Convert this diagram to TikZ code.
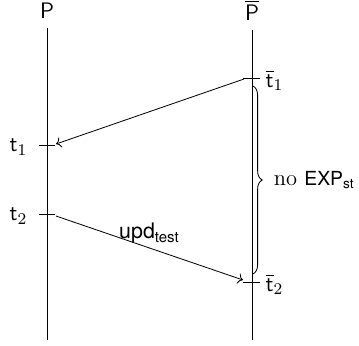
\documentclass[tikz,border=0pt]{standalone}
\usepackage{amsmath}
\usepackage{fontspec}
\newfontfamily\helv{TeX Gyre Heros}
\usetikzlibrary{arrows.meta, positioning, decorations.pathreplacing}

\begin{document}
\begin{tikzpicture}[
  x=0.49pt, y=-0.49pt,
  font=\fontsize{11}{13}\selectfont,
  life/.style={line width=0.45pt},
  tck/.style={line width=0.45pt},
  msg/.style={->, line width=0.4pt},
  lbl/.style={inner sep=1pt}
]
\useasboundingbox (0,0) rectangle (359,345);
% processes
\node[lbl, anchor=base] (P) at (47,19) {$\mathsf{P}$};
\node[lbl, anchor=base] (Pb) at (252,20.5) {$\overline{\mathsf{P}}$};
\coordinate (Ptop) at (47,28);
\coordinate (Pbot) at (47,340);
\coordinate (Pbtop) at (252,30);
\coordinate (Pbbot) at (252,340);
\draw[life] (Ptop) -- (Pbot);
\draw[life] (Pbtop) -- (Pbbot);

% ticks
\coordinate (ta) at (47,145);
\coordinate (tb) at (47,214);
\coordinate (tba) at (252,78);
\coordinate (tbb) at (252,282);
\draw[tck] (ta) ++(-8,0) -- ++(16,0);
\draw[tck] (tb) ++(-8,0) -- ++(16,0);
\draw[tck] (tba) ++(-9,0) -- ++(17,0);
\draw[tck] (tbb) ++(-9,0) -- ++(17,0);
\node[lbl, left=8.5pt of ta, yshift=-1pt] (ta-l) {$\mathsf{t}_1$};
\node[lbl, left=8.5pt of tb, yshift=-1pt] (tb-l) {$\mathsf{t}_2$};
\node[lbl, right=5.5pt of tba, yshift=-1pt] (tba-l) {$\overline{\mathsf{t}}_1$};
\node[lbl, right=5.5pt of tbb, yshift=-1pt] (tbb-l) {$\overline{\mathsf{t}}_2$};

% messages
\draw[msg] (tba) ++(-8,1) -- ([shift={(9,-1)}]ta);
\draw[msg] ([shift={(9,2)}]tb) -- node[above=1pt, lbl, font=\fontsize{10.5}{12}\helv] (upd) {upd\textsubscript{test}} ([shift={(-9,-2)}]tbb);

% interval
\draw[line width=0.4pt, decorate, decoration={brace, amplitude=4.5pt}]
  (253,86) -- node[right=9pt, lbl] (noexp) {no {\fontsize{9.5}{11}\helv EXP\textsubscript{st}}} (253,274);
\end{tikzpicture}
\end{document}
